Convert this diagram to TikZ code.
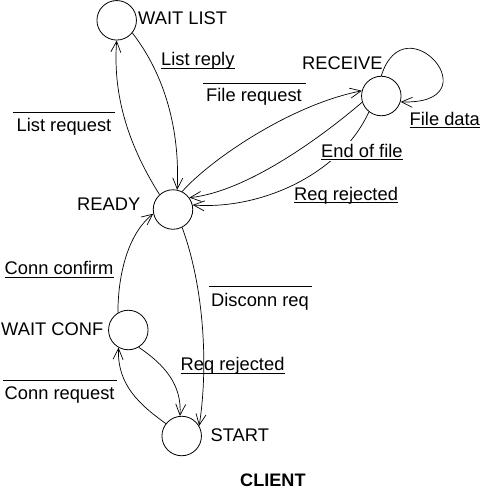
\documentclass[tikz,border=0pt]{standalone}
\usepackage{fontspec}
\setmainfont{Liberation Sans}
\usetikzlibrary{arrows.meta}
\tikzset{
  state/.style={circle,draw,line width=0.8pt,minimum size=39.5pt,inner sep=0pt},
  lbl/.style={anchor=base west,inner sep=0pt,font=\fontsize{18.3}{20}\selectfont},
  arr/.style={line width=0.7pt,-{Straight Barb[length=11pt,width=10pt,line width=0.7pt]}},
  mark line/.style={line width=0.9pt},
}
\begin{document}
\begin{tikzpicture}[x=1pt,y=-1pt]
\useasboundingbox (0,0) rectangle (482,493);
% states
\node[state] (wl) at (116.7,20.3) {};
\node[state] (ready) at (173,209.5) {};
\node[state] (rec) at (381.3,96) {};
\node[state] (wc) at (128.3,330) {};
\node[state] (start) at (181.7,436) {};
% state names
\node[lbl] (twl) at (138,24) {WAIT LIST};
\node[lbl] (tready) at (77,210.7) {READY};
\node[lbl] (trec) at (302,69) {RECEIVE};
\node[lbl] (twc) at (1,335.7) {WAIT CONF};
\node[lbl] (tstart) at (210.5,441) {START};
\node[lbl,font=\fontsize{18.1}{20}\selectfont\bfseries] (tclient) at (240,486.7) {CLIENT};
% edges
\draw[arr] (ready.132) .. controls (125,140) and (113,90) .. (wl.270);
\draw[arr] (wl.-39) .. controls (165,75) and (180,130) .. (ready.78);
\draw[arr] (ready.63) .. controls (210,160) and (290,105) .. (rec.165);
\draw[arr] (rec.198) .. controls (318,140) and (245,192) .. (ready.36);
\draw[arr] (rec.232) .. controls (340,175) and (260,210) .. (ready.13);
\draw[arr] (rec.90) .. controls (405,0) and (495,105) .. (rec.-17);
\draw[arr] (ready.-63) .. controls (205,290) and (208,370) .. (start.30);
\draw[arr] (wc.121) .. controls (118,270) and (130,232) .. (ready.192);
\draw[arr] (wc.-59) .. controls (165,365) and (182,385) .. (start.95);
\draw[arr] (start.142) .. controls (140,405) and (117,385) .. (wc.241);
% edge labels
\node[lbl] (lreply) at (161,65) {List reply};
\draw[mark line] ([yshift=-3pt]lreply.base west) -- ([yshift=-3pt]lreply.base east);
\node[lbl] (freq) at (206,101.7) {File request};
\draw[mark line] ([xshift=-3.5pt,yshift=18.5pt]freq.base west) -- ([xshift=3.5pt,yshift=18.5pt]freq.base east);
\node[lbl] (fdata) at (409.5,125) {File data};
\draw[mark line] ([yshift=-2.5pt]fdata.base west) -- ([yshift=-2.5pt]fdata.base east);
\node[lbl,fill=white,inner xsep=1pt,inner ysep=3pt] (eof) at (320,157.7) {End of file};
\draw[mark line] ([xshift=1pt,yshift=-2pt]eof.base west) -- ([xshift=-1pt,yshift=-2pt]eof.base east);
\node[lbl] (rrej1) at (294,200) {Req rejected};
\draw[mark line] ([yshift=-2.5pt]rrej1.base west) -- ([yshift=-2.5pt]rrej1.base east);
\node[lbl] (lreq) at (16.5,131) {List request};
\draw[mark line] ([xshift=-3.5pt,yshift=18.7pt]lreq.base west) -- ([xshift=3.5pt,yshift=18.7pt]lreq.base east);
\node[lbl] (cconf) at (4.5,274.3) {Conn confirm};
\draw[mark line] ([yshift=-3pt]cconf.base west) -- ([yshift=-3pt]cconf.base east);
\node[lbl] (dreq) at (211,306.7) {Disconn req};
\draw[mark line] ([xshift=-2pt,yshift=20pt]dreq.base west) -- ([xshift=3pt,yshift=20pt]dreq.base east);
\node[lbl] (rrej2) at (180.5,370) {Req rejected};
\draw[mark line] ([yshift=-3pt]rrej2.base west) -- ([yshift=-3pt]rrej2.base east);
\node[lbl] (creq) at (4.5,399.3) {Conn request};
\draw[mark line] ([xshift=-2pt,yshift=19.3pt]creq.base west) -- ([xshift=2pt,yshift=19.3pt]creq.base east);
\end{tikzpicture}
\end{document}
